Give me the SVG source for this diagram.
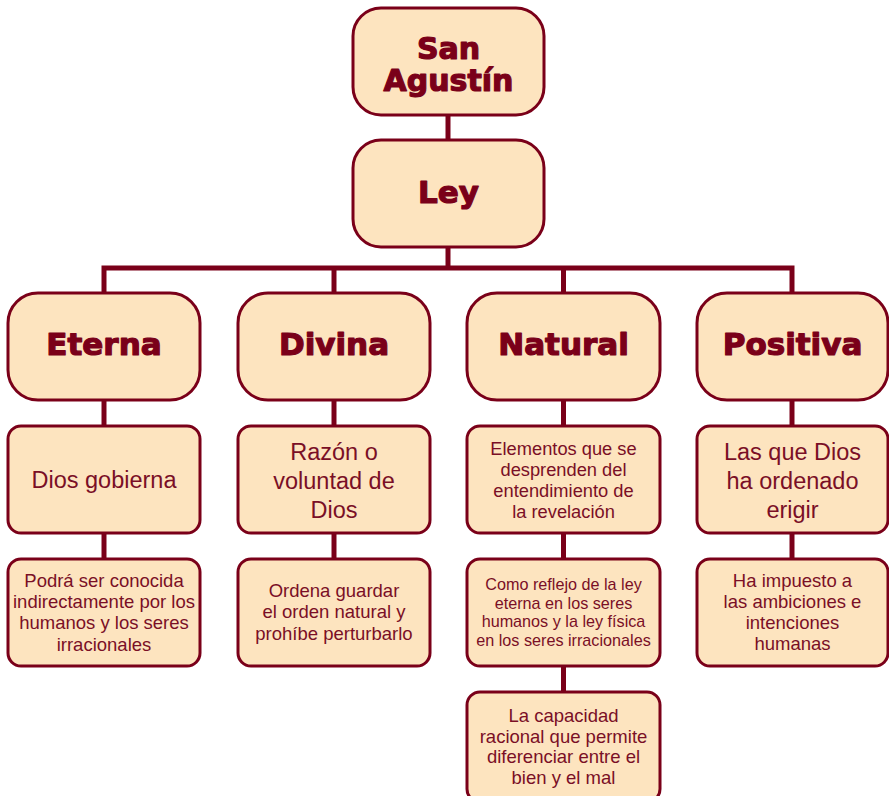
<svg xmlns="http://www.w3.org/2000/svg" width="889" height="796" viewBox="0 0 889 796">
<style>
.box{fill:#fde4bf;stroke:#7a0019;stroke-width:3}
.h{font-family:"DejaVu Sans",sans-serif;font-weight:bold;fill:#7a0019;stroke:#7a0019;stroke-width:1.2;stroke-linejoin:round;text-anchor:middle}
.t{font-family:"Liberation Sans",Arial,sans-serif;fill:#7a0f26;text-anchor:middle}
.c{stroke:#7a0019;stroke-width:5;fill:none}
</style>
<rect width="889" height="796" fill="#ffffff"/>
<g id="connectors">
<line class="c" x1="448" y1="114" x2="448" y2="141"/>
<line class="c" x1="448" y1="246" x2="448" y2="268"/>
<polyline class="c" points="104,294 104,268 792,268 792,294"/>
<line class="c" x1="334" y1="268" x2="334" y2="294"/>
<line class="c" x1="563.5" y1="268" x2="563.5" y2="294"/>
<line class="c" x1="104" y1="399" x2="104" y2="427"/>
<line class="c" x1="334" y1="399" x2="334" y2="427"/>
<line class="c" x1="563.5" y1="399" x2="563.5" y2="427"/>
<line class="c" x1="792" y1="399" x2="792" y2="427"/>
<line class="c" x1="104" y1="532" x2="104" y2="560"/>
<line class="c" x1="334" y1="532" x2="334" y2="560"/>
<line class="c" x1="563.5" y1="532" x2="563.5" y2="560"/>
<line class="c" x1="792" y1="532" x2="792" y2="560"/>
<line class="c" x1="563.5" y1="666" x2="563.5" y2="693"/>
</g>
<g id="san-agustin">
<rect class="box" x="353" y="8" width="191" height="107" rx="28"/>
<text class="h" x="448.5" y="59" font-size="30">San</text>
<text class="h" x="448.5" y="91" font-size="30">Agustín</text>
</g>
<g id="ley">
<rect class="box" x="353" y="140" width="191" height="107" rx="28"/>
<text class="h" x="448.5" y="203" font-size="31">Ley</text>
</g>
<g id="eterna">
<rect class="box" x="8" y="293" width="192" height="107" rx="30"/>
<text class="h" x="104" y="355" font-size="31">Eterna</text>
</g>
<g id="divina">
<rect class="box" x="238" y="293" width="192" height="107" rx="30"/>
<text class="h" x="334" y="355" font-size="31">Divina</text>
</g>
<g id="natural">
<rect class="box" x="467" y="293" width="193" height="107" rx="30"/>
<text class="h" x="563.5" y="355" font-size="31">Natural</text>
</g>
<g id="positiva">
<rect class="box" x="697" y="293" width="191" height="107" rx="30"/>
<text class="h" x="792.5" y="355" font-size="31">Positiva</text>
</g>
<g id="eterna-1">
<rect class="box" x="8" y="426" width="192" height="107" rx="13"/>
<text class="t" x="104" y="488" font-size="23.5">Dios gobierna</text>
</g>
<g id="divina-1">
<rect class="box" x="238" y="426" width="192" height="107" rx="13"/>
<text class="t" x="334" y="460" font-size="23.5">Razón o</text>
<text class="t" x="334" y="489" font-size="23.5">voluntad de</text>
<text class="t" x="334" y="518" font-size="23.5">Dios</text>
</g>
<g id="natural-1">
<rect class="box" x="467" y="426" width="193" height="107" rx="13"/>
<text class="t" x="563.5" y="455" font-size="18.3">Elementos que se</text>
<text class="t" x="563.5" y="476" font-size="18.3">desprenden del</text>
<text class="t" x="563.5" y="497" font-size="18.3">entendimiento de</text>
<text class="t" x="563.5" y="518" font-size="18.3">la revelación</text>
</g>
<g id="positiva-1">
<rect class="box" x="697" y="426" width="191" height="107" rx="13"/>
<text class="t" x="792.5" y="460" font-size="23.5">Las que Dios</text>
<text class="t" x="792.5" y="489" font-size="23.5">ha ordenado</text>
<text class="t" x="792.5" y="518" font-size="23.5">erigir</text>
</g>
<g id="eterna-2">
<rect class="box" x="8" y="559" width="192" height="107" rx="13"/>
<text class="t" x="104" y="587" font-size="18.5">Podrá ser conocida</text>
<text class="t" x="104" y="608" font-size="18.5">indirectamente por los</text>
<text class="t" x="104" y="629" font-size="18.5">humanos y los seres</text>
<text class="t" x="104" y="651" font-size="18.5">irracionales</text>
</g>
<g id="divina-2">
<rect class="box" x="238" y="559" width="192" height="107" rx="13"/>
<text class="t" x="334" y="597" font-size="18.5">Ordena guardar</text>
<text class="t" x="334" y="618" font-size="18.5">el orden natural y</text>
<text class="t" x="334" y="640" font-size="18.5">prohíbe perturbarlo</text>
</g>
<g id="natural-2">
<rect class="box" x="467" y="559" width="193" height="107" rx="13"/>
<text class="t" x="563.5" y="590" font-size="16.2">Como reflejo de la ley</text>
<text class="t" x="563.5" y="609" font-size="16.2">eterna en los seres</text>
<text class="t" x="563.5" y="627" font-size="16.2">humanos y la ley física</text>
<text class="t" x="563.5" y="646" font-size="16.2">en los seres irracionales</text>
</g>
<g id="positiva-2">
<rect class="box" x="697" y="559" width="191" height="107" rx="13"/>
<text class="t" x="792.5" y="587" font-size="18.5">Ha impuesto a</text>
<text class="t" x="792.5" y="608" font-size="18.5">las ambiciones e</text>
<text class="t" x="792.5" y="629" font-size="18.5">intenciones</text>
<text class="t" x="792.5" y="650" font-size="18.5">humanas</text>
</g>
<g id="natural-3">
<rect class="box" x="467" y="692" width="193" height="110" rx="13"/>
<text class="t" x="563.5" y="722" font-size="18.5">La capacidad</text>
<text class="t" x="563.5" y="743" font-size="18.5">racional que permite</text>
<text class="t" x="563.5" y="763" font-size="18.5">diferenciar entre el</text>
<text class="t" x="563.5" y="784" font-size="18.5">bien y el mal</text>
</g>
</svg>
